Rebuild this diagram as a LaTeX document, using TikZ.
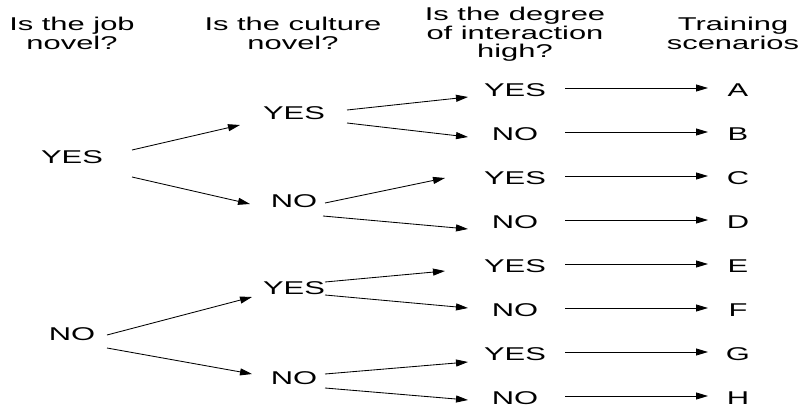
\documentclass[tikz,border=0pt]{standalone}
\usepackage{fontspec}
\setmainfont{Liberation Sans}
\usepackage{graphicx}
\usetikzlibrary{arrows.meta}
% wide, stretched lettering
\newcommand{\wide}[1]{\scalebox{1.67}[1]{#1}}
\newcommand{\hdr}[1]{\wide{\begin{tabular}{@{}c@{}}#1\end{tabular}}}
\tikzset{
  lbl/.style={inner sep=0pt, font=\fontsize{18.5}{18}\selectfont, text=black},
  arr/.style={draw=black, line width=0.85pt, -{Triangle[length=12pt,width=7pt]}},
}
\begin{document}
\begin{tikzpicture}[x=1pt,y=-1pt]
\useasboundingbox (0,0) rectangle (809,407);
\renewcommand{\arraystretch}{1}
\setlength{\tabcolsep}{0pt}

% column headings
\node[lbl] (h1) at (72,36)  {\hdr{Is the job\\novel?}};
\node[lbl] (h2) at (293,36) {\hdr{Is the culture\\novel?}};
\node[lbl] (h3) at (515,35) {\hdr{Is the degree\\of interaction\\high?}};
\node[lbl] (h4) at (733,36) {\hdr{Training\\scenarios}};

% level 1: job novel?
\node[lbl] (j1) at (72,157) {\wide{YES}};
\node[lbl] (j2) at (72,334) {\wide{NO}};

% level 2: culture novel?
\node[lbl] (c1) at (294,113) {\wide{YES}};
\node[lbl] (c2) at (294,201) {\wide{NO}};
\node[lbl] (c3) at (294,288) {\wide{YES}};
\node[lbl] (c4) at (294,378) {\wide{NO}};

% level 3: interaction high?
\node[lbl] (i1) at (515,90)  {\wide{YES}};
\node[lbl] (i2) at (515,134) {\wide{NO}};
\node[lbl] (i3) at (515,178) {\wide{YES}};
\node[lbl] (i4) at (515,222) {\wide{NO}};
\node[lbl] (i5) at (515,266) {\wide{YES}};
\node[lbl] (i6) at (515,310) {\wide{NO}};
\node[lbl] (i7) at (515,354) {\wide{YES}};
\node[lbl] (i8) at (515,398) {\wide{NO}};

% scenarios
\foreach \n/\t/\y in {1/A/90,2/B/134,3/C/178,4/D/222,5/E/266,6/F/310,7/G/354,8/H/398}{
  \node[lbl] (s\n) at (738,\y) {\wide{\t}};
}

% level 1 -> level 2
\draw[arr] ([shift={(60,-7)}]j1.center) -- ([shift={(-54,12)}]c1.center);
\draw[arr] ([shift={(60,20)}]j1.center) -- ([shift={(-44,3)}]c2.center);
\draw[arr] ([shift={(35,1)}]j2.center) -- ([shift={(-42,9)}]c3.center);
\draw[arr] ([shift={(35,14)}]j2.center) -- ([shift={(-42,-4)}]c4.center);

% level 2 -> level 3
\draw[arr] ([shift={(53,-3)}]c1.center) -- ([shift={(-47,7)}]i1.center);
\draw[arr] ([shift={(53,10)}]c1.center) -- ([shift={(-47,3)}]i2.center);
\draw[arr] ([shift={(31,2)}]c2.center) -- ([shift={(-70,0)}]i3.center);
\draw[arr] ([shift={(29,15)}]c2.center) -- ([shift={(-47,7)}]i4.center);
\draw[arr] ([shift={(31,-6)}]c3.center) -- ([shift={(-70,5)}]i5.center);
\draw[arr] ([shift={(31,7)}]c3.center) -- ([shift={(-47,-2)}]i6.center);
\draw[arr] ([shift={(31,-4)}]c4.center) -- ([shift={(-47,8)}]i7.center);
\draw[arr] ([shift={(31,10)}]c4.center) -- ([shift={(-47,2)}]i8.center);

% level 3 -> scenarios
\foreach \n in {1,...,8}{
  \draw[arr] ([shift={(50,-2)}]i\n.center) -- ([shift={(-30,-2)}]s\n.center);
}
\end{tikzpicture}
\end{document}
